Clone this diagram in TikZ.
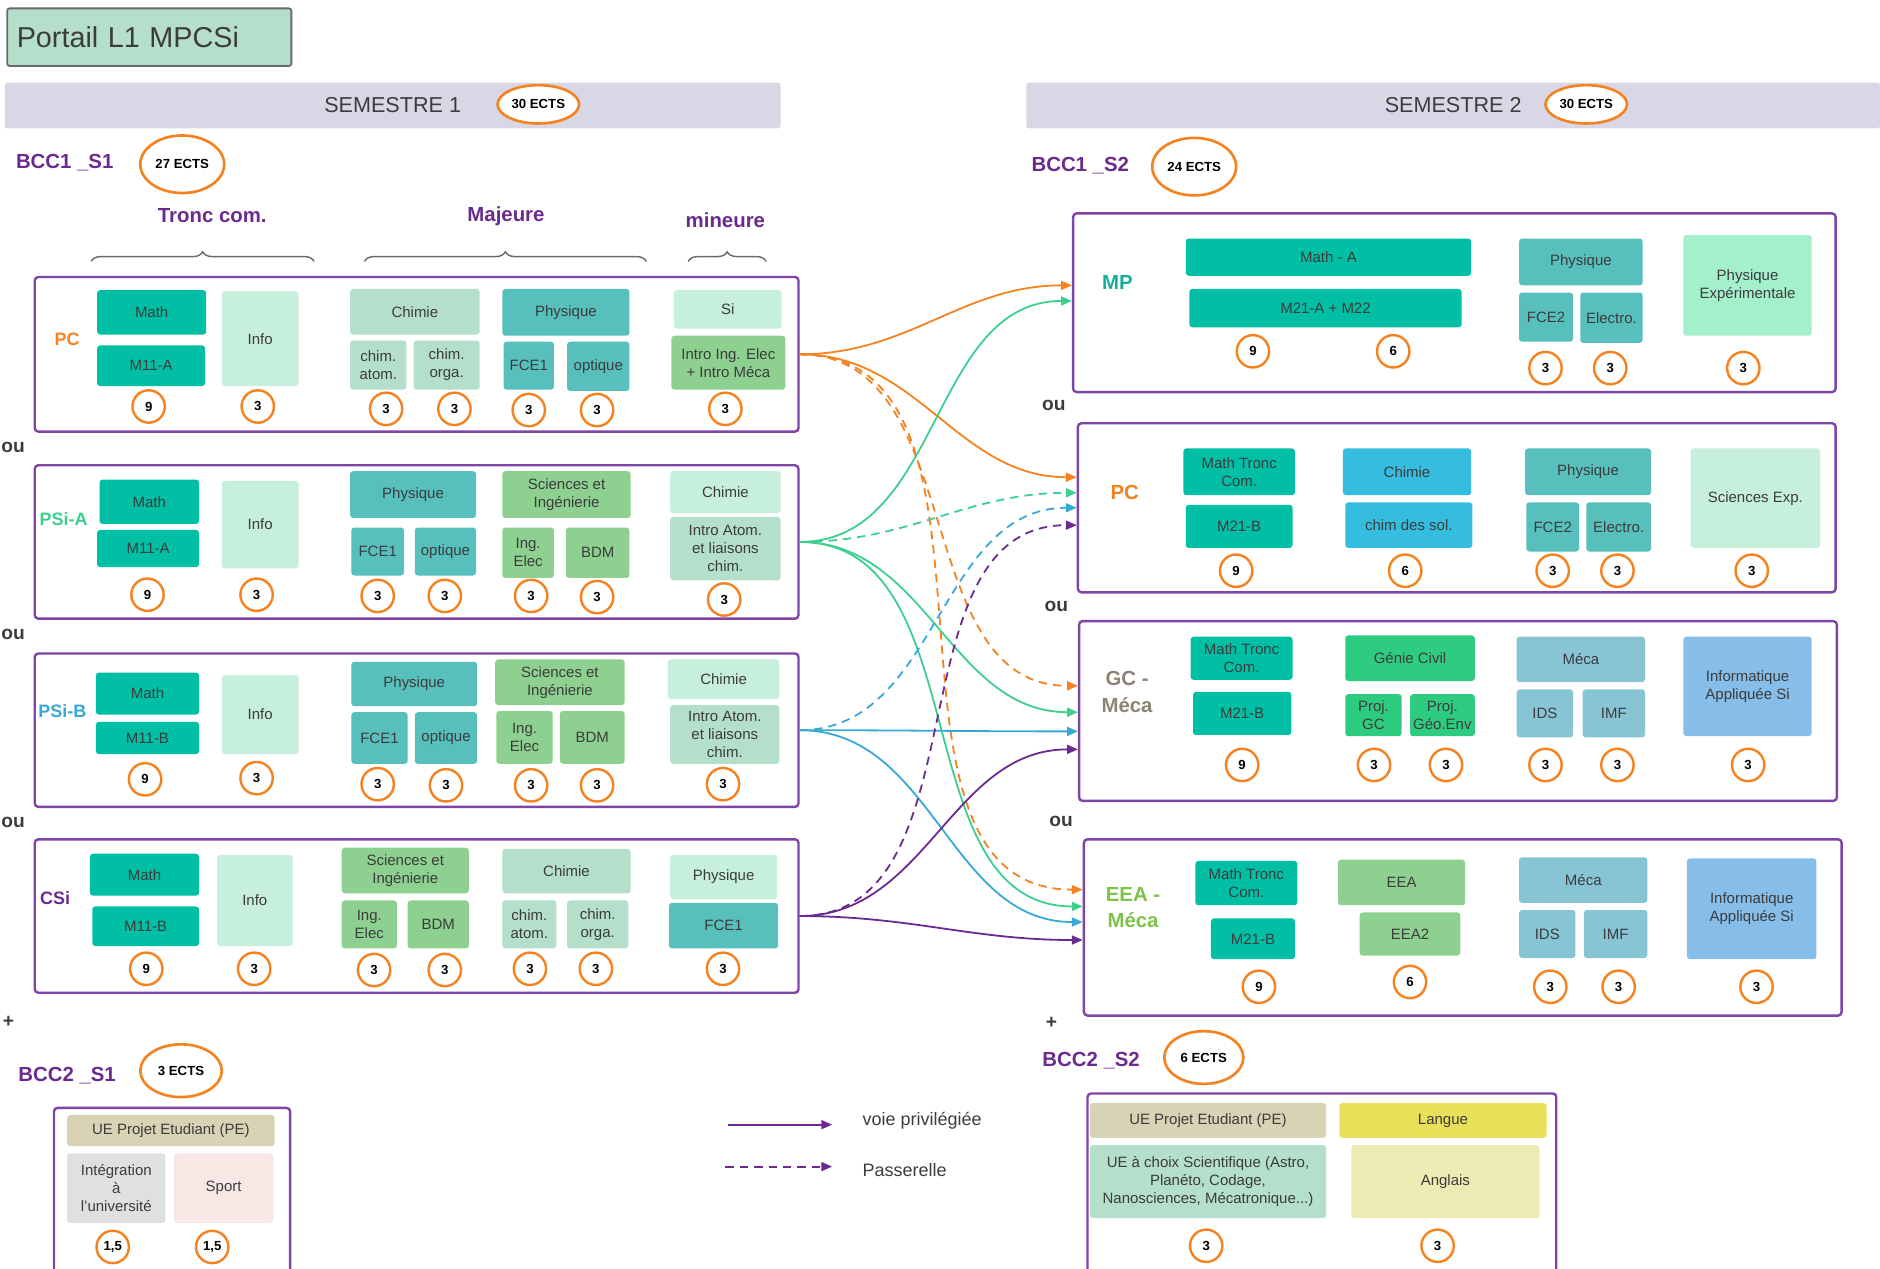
\documentclass[tikz,border=0pt]{standalone}
\usepackage{fontspec}
\setmainfont{Liberation Sans}
\usetikzlibrary{arrows.meta,shapes.geometric,decorations.pathreplacing}
\definecolor{cTxt}{HTML}{3C3C3C}
\definecolor{cOr}{HTML}{F5821F}
\definecolor{cVerL}{HTML}{3CCF8E}
\definecolor{cBleuL}{HTML}{38A8D6}
\definecolor{cViolet}{HTML}{6B2A90}
\definecolor{cTrk}{HTML}{7E44A8}
\definecolor{cTitre}{HTML}{B5DFCA}
\definecolor{cBord}{HTML}{6A6A6A}
\definecolor{cSem}{HTML}{D9D7E6}
\definecolor{cTeal}{HTML}{00BFA5}
\definecolor{cPhy}{HTML}{57C0BC}
\definecolor{cMint}{HTML}{C6EFDC}
\definecolor{cChim}{HTML}{B4DFCA}
\definecolor{cVert}{HTML}{8DD08F}
\definecolor{cBleu}{HTML}{35BDE0}
\definecolor{cGenie}{HTML}{2ECC80}
\definecolor{cMeca}{HTML}{87C5D5}
\definecolor{cInfo}{HTML}{86BDE9}
\definecolor{cExp}{HTML}{A4F0CC}
\definecolor{cBeige}{HTML}{D9D3B5}
\definecolor{cGris}{HTML}{E0E0E0}
\definecolor{cRose}{HTML}{F7E8E6}
\definecolor{cJaune}{HTML}{E9E05A}
\definecolor{cPale}{HTML}{EEEAB3}
\definecolor{cMP}{HTML}{16AD9C}
\definecolor{cGC}{HTML}{8C8474}
\definecolor{cEEA}{HTML}{7DC34A}
\definecolor{cAcc}{HTML}{6A2A8E}
\tikzset{
  ue/.style={rounded corners=2.5, inner sep=1, align=center, text=cTxt, font=\fontsize{12.5}{15}\selectfont},
  pastille/.style={circle, draw=cOr, line width=2, fill=white, minimum size=27, inner sep=0, text=black, font=\bfseries\fontsize{11}{12}\selectfont},
  ects/.style={ellipse, draw=cOr, line width=2.2, fill=white, inner sep=0, text=black, font=\bfseries\fontsize{11}{12}\selectfont},
  parcours/.style={draw=cTrk, line width=2, rounded corners=3, fill=white},
  entete/.style={text=cAcc, font=\bfseries\fontsize{17}{20}\selectfont},
  ou/.style={text=cTxt, font=\bfseries\fontsize{16}{18}\selectfont},
  nomparc/.style={align=center, font=\bfseries\fontsize{17}{22}\selectfont},
  accolade/.style={decorate, decoration={brace, amplitude=8}, draw=cBord, line width=1.2},
  lien/.style={line width=1.5, -{Triangle[length=9,width=7.5]}},
  pas/.style={lien, dash pattern=on 7 off 5},
}
\begin{document}
\begin{tikzpicture}[x=1pt, y=-1pt]
\useasboundingbox (0,0) rectangle (1568,1058);

% titre et semestres
\node[draw=cBord, line width=1.5, fill=cTitre, rounded corners=2, text width=221, inner xsep=8, minimum height=48, align=left, text=cTxt, font=\fontsize{24}{26}\selectfont] (titre) at (124.5,31) {Portail L1 MPCSi};
\node[fill=cSem, rounded corners=2, minimum width=647, minimum height=38, text=cTxt, font=\fontsize{18}{20}\selectfont] (sem1) at (327.5,88) {SEMESTRE 1};
\node[fill=cSem, rounded corners=2, minimum width=712, minimum height=38, text=cTxt, font=\fontsize{18}{20}\selectfont] (sem2) at (1212,88) {SEMESTRE 2};
\node[ects, minimum width=68, minimum height=32] (sem1E) at (449,87) {30 ECTS};
\node[ects, minimum width=68, minimum height=32] (sem2E) at (1323,87) {30 ECTS};

% BCC1
\node[entete] (bcc1S1) at (54,136) {BCC1 \_S1};
\node[ects, minimum width=70, minimum height=48] (bcc1S1E) at (152,137) {27 ECTS};
\node[entete] (bcc1S2) at (901,138) {BCC1 \_S2};
\node[ects, minimum width=70, minimum height=48] (bcc1S2E) at (996,139) {24 ECTS};

\node[entete] (tronc) at (177,180) {Tronc com.};
\node[entete] (majeure) at (422,180) {Majeure};
\node[entete] (mineure) at (605,184) {mineure};
\draw[accolade] (76,218) -- (262,218);
\draw[accolade] (304,218) -- (539,218);
\draw[accolade] (574,218) -- (639,218);

% parcours S1
\node[parcours, minimum width=637, minimum height=129] (pcS1) at (347.5,295.5) {};
\node[parcours, minimum width=637, minimum height=128] (psaS1) at (347.5,452) {};
\node[parcours, minimum width=637, minimum height=128] (psbS1) at (347.5,609) {};
\node[parcours, minimum width=637, minimum height=128] (csiS1) at (347.5,764) {};
\node[ou, anchor=west, inner xsep=0] (ou1) at (1,373) {ou};
\node[ou, anchor=west, inner xsep=0] (ou2) at (1,529) {ou};
\node[ou, anchor=west, inner xsep=0] (ou3) at (1,686) {ou};
\node[ou] (plus1) at (7,852) {+};

\node[nomparc, text=cOr, font=\bfseries\fontsize{15}{18}\selectfont] (pcL) at (56,283) {PC};
\node[nomparc, text=cVerL, font=\bfseries\fontsize{15}{18}\selectfont] (psaL) at (53,433) {PSi-A};
\node[nomparc, text=cBleuL, font=\bfseries\fontsize{15}{18}\selectfont] (psbL) at (52,593) {PSi-B};
\node[nomparc, text=cViolet, font=\bfseries\fontsize{15}{18}\selectfont] (csiL) at (46,749) {CSi};

% PC
\node[ue, fill=cTeal, minimum width=91, minimum height=37] (pcMath) at (126.5,260.5) {Math};
\node[ue, fill=cTeal, minimum width=90, minimum height=34] (pcM11) at (126,305) {M11-A};
\node[ue, fill=cMint, minimum width=64, minimum height=79] (pcInfo) at (217,282.5) {Info};
\node[ue, fill=cChim, minimum width=108, minimum height=38] (pcChim) at (346,260) {Chimie};
\node[ue, fill=cChim, minimum width=47, minimum height=41] (pcChA) at (315.5,304.5) {chim.\\atom.};
\node[ue, fill=cChim, minimum width=55, minimum height=41] (pcChO) at (372.5,304.5) {chim.\\orga.};
\node[ue, fill=cPhy, minimum width=106, minimum height=39] (pcPhy) at (472,260.5) {Physique};
\node[ue, fill=cPhy, minimum width=42, minimum height=40] (pcFCE) at (441,305) {FCE1};
\node[ue, fill=cPhy, minimum width=52, minimum height=41] (pcOpt) at (499,305.5) {optique};
\node[ue, fill=cMint, minimum width=90, minimum height=32] (pcSi) at (607,258) {Si};
\node[ue, fill=cVert, minimum width=95, minimum height=45] (pcIntro) at (607.5,302.5) {Intro Ing. Elec\\+ Intro Méca};
\node[pastille] (pcE1) at (124,339) {9};
\node[pastille] (pcE2) at (215,339) {3};
\node[pastille] (pcE3) at (322,341) {3};
\node[pastille] (pcE4) at (379,341) {3};
\node[pastille] (pcE5) at (441,342) {3};
\node[pastille] (pcE6) at (498,342) {3};
\node[pastille] (pcE7) at (605,341) {3};

% PSi-A
\node[ue, fill=cTeal, minimum width=83, minimum height=37] (paMath) at (124.5,418.5) {Math};
\node[ue, fill=cTeal, minimum width=85, minimum height=31] (paM11) at (123.5,457.5) {M11-A};
\node[ue, fill=cMint, minimum width=64, minimum height=73] (paInfo) at (217,437.5) {Info};
\node[ue, fill=cPhy, minimum width=105, minimum height=39] (paPhy) at (344.5,412.5) {Physique};
\node[ue, fill=cPhy, minimum width=44, minimum height=40] (paFCE) at (315,460) {FCE1};
\node[ue, fill=cPhy, minimum width=51, minimum height=40] (paOpt) at (371.5,460) {optique};
\node[ue, fill=cVert, minimum width=107, minimum height=39] (paSci) at (472.5,412.5) {Sciences et\\Ingénierie};
\node[ue, fill=cVert, minimum width=43, minimum height=42] (paIng) at (440.5,461) {Ing.\\Elec};
\node[ue, fill=cVert, minimum width=53, minimum height=42] (paBDM) at (498.5,461) {BDM};
\node[ue, fill=cMint, minimum width=92, minimum height=35] (paChim) at (605,410.5) {Chimie};
\node[ue, fill=cChim, minimum width=92, minimum height=53] (paAtom) at (605,457.5) {Intro Atom.\\et liaisons\\chim.};
\node[pastille] (paE1) at (123,496) {9};
\node[pastille] (paE2) at (214,496) {3};
\node[pastille] (paE3) at (315,497) {3};
\node[pastille] (paE4) at (371,497) {3};
\node[pastille] (paE5) at (443,497) {3};
\node[pastille] (paE6) at (498,498) {3};
\node[pastille] (paE7) at (604,500) {3};

% PSi-B
\node[ue, fill=cTeal, minimum width=86, minimum height=35] (pbMath) at (123,578.5) {Math};
\node[ue, fill=cTeal, minimum width=86, minimum height=27] (pbM11) at (123,615.5) {M11-B};
\node[ue, fill=cMint, minimum width=64, minimum height=66] (pbInfo) at (217,596) {Info};
\node[ue, fill=cPhy, minimum width=105, minimum height=37] (pbPhy) at (345.5,570.5) {Physique};
\node[ue, fill=cPhy, minimum width=47, minimum height=43] (pbFCE) at (316.5,615.5) {FCE1};
\node[ue, fill=cPhy, minimum width=52, minimum height=43] (pbOpt) at (372,615.5) {optique};
\node[ue, fill=cVert, minimum width=108, minimum height=38] (pbSci) at (467,569) {Sciences et\\Ingénierie};
\node[ue, fill=cVert, minimum width=47, minimum height=44] (pbIng) at (437.5,615) {Ing.\\Elec};
\node[ue, fill=cVert, minimum width=54, minimum height=44] (pbBDM) at (494,615) {BDM};
\node[ue, fill=cMint, minimum width=93, minimum height=33] (pbChim) at (603.5,566.5) {Chimie};
\node[ue, fill=cChim, minimum width=91, minimum height=49] (pbAtom) at (604.5,612.5) {Intro Atom.\\et liaisons\\chim.};
\node[pastille] (pbE1) at (121,650) {9};
\node[pastille] (pbE2) at (214,649) {3};
\node[pastille] (pbE3) at (315,654) {3};
\node[pastille] (pbE4) at (372,655) {3};
\node[pastille] (pbE5) at (443,655) {3};
\node[pastille] (pbE6) at (498,655) {3};
\node[pastille] (pbE7) at (603,654) {3};

% CSi
\node[ue, fill=cTeal, minimum width=91, minimum height=35] (csMath) at (120.5,729.5) {Math};
\node[ue, fill=cTeal, minimum width=89, minimum height=33] (csM11) at (121.5,772.5) {M11-B};
\node[ue, fill=cMint, minimum width=63, minimum height=76] (csInfo) at (212.5,751) {Info};
\node[ue, fill=cVert, minimum width=106, minimum height=38] (csSci) at (338,726) {Sciences et\\Ingénierie};
\node[ue, fill=cVert, minimum width=46, minimum height=40] (csIng) at (308,771) {Ing.\\Elec};
\node[ue, fill=cVert, minimum width=51, minimum height=40] (csBDM) at (365.5,771) {BDM};
\node[ue, fill=cChim, minimum width=107, minimum height=37] (csChim) at (472.5,726.5) {Chimie};
\node[ue, fill=cChim, minimum width=45, minimum height=40] (csChA) at (441.5,771) {chim.\\atom.};
\node[ue, fill=cChim, minimum width=51, minimum height=40] (csChO) at (498.5,771) {chim.\\orga.};
\node[ue, fill=cMint, minimum width=89, minimum height=37] (csPhy) at (603.5,731.5) {Physique};
\node[ue, fill=cPhy, minimum width=91, minimum height=38] (csFCE) at (603.5,772) {FCE1};
\node[pastille] (csE1) at (122,808) {9};
\node[pastille] (csE2) at (212,808) {3};
\node[pastille] (csE3) at (312,809) {3};
\node[pastille] (csE4) at (371,809) {3};
\node[pastille] (csE5) at (442,808) {3};
\node[pastille] (csE6) at (497,808) {3};
\node[pastille] (csE7) at (603,808) {3};

% parcours S2
\node[parcours, minimum width=636, minimum height=149] (mpS2) at (1213,252.5) {};
\node[parcours, minimum width=632, minimum height=141] (pcS2) at (1215,423.5) {};
\node[parcours, minimum width=632, minimum height=150] (gcS2) at (1216,593) {};
\node[parcours, minimum width=632, minimum height=147] (eeaS2) at (1220,773.5) {};
\node[ou] (ou4) at (879,338) {ou};
\node[ou] (ou5) at (881,506) {ou};
\node[ou] (ou6) at (885,685) {ou};
\node[ou] (plus2) at (877,853) {+};

\node[nomparc, text=cMP] (mpL) at (932,236) {MP};
\node[nomparc, text=cOr] (pc2L) at (938,411) {PC};
\node[nomparc, text=cGC] (gcL) at (940,577) {GC -\\Méca};
\node[nomparc, text=cEEA] (eeaL) at (945,757) {EEA -\\Méca};

% MP
\node[ue, fill=cTeal, minimum width=238, minimum height=31] (mpMath) at (1108,214.5) {Math - A};
\node[ue, fill=cTeal, minimum width=227, minimum height=32] (mpM21) at (1105.5,257) {M21-A + M22};
\node[ue, fill=cPhy, minimum width=103, minimum height=39] (mpPhy) at (1318.5,218.5) {Physique};
\node[ue, fill=cPhy, minimum width=45, minimum height=41] (mpFCE) at (1289.5,264.5) {FCE2};
\node[ue, fill=cPhy, minimum width=52, minimum height=42] (mpEl) at (1344,265) {Electro.};
\node[ue, fill=cExp, minimum width=107, minimum height=84] (mpExp) at (1457.5,238) {Physique\\Expérimentale};
\node[pastille] (mpE1) at (1045,293) {9};
\node[pastille] (mpE2) at (1162,293) {6};
\node[pastille] (mpE3) at (1289,307) {3};
\node[pastille] (mpE4) at (1343,307) {3};
\node[pastille] (mpE5) at (1454,307) {3};

% PC S2
\node[ue, fill=cTeal, minimum width=93, minimum height=39] (pc2Math) at (1033.5,393.5) {Math Tronc\\Com.};
\node[ue, fill=cTeal, minimum width=89, minimum height=36] (pc2M21) at (1033.5,439) {M21-B};
\node[ue, fill=cBleu, minimum width=107, minimum height=39] (pc2Chim) at (1173.5,393.5) {Chimie};
\node[ue, fill=cBleu, minimum width=106, minimum height=38] (pc2Sol) at (1175,438) {chim des sol.};
\node[ue, fill=cPhy, minimum width=105, minimum height=39] (pc2Phy) at (1324.5,393.5) {Physique};
\node[ue, fill=cPhy, minimum width=44, minimum height=41] (pc2FCE) at (1295,439.5) {FCE2};
\node[ue, fill=cPhy, minimum width=54, minimum height=41] (pc2El) at (1350,439.5) {Electro.};
\node[ue, fill=cMint, minimum width=108, minimum height=83] (pc2Exp) at (1464,415.5) {Sciences Exp.};
\node[pastille] (pc2E1) at (1031,476) {9};
\node[pastille] (pc2E2) at (1172,476) {6};
\node[pastille] (pc2E3) at (1295,476) {3};
\node[pastille] (pc2E4) at (1349,476) {3};
\node[pastille] (pc2E5) at (1461,476) {3};

% GC - Meca
\node[ue, fill=cTeal, minimum width=85, minimum height=36] (gcMath) at (1035.5,549) {Math Tronc\\Com.};
\node[ue, fill=cTeal, minimum width=82, minimum height=36] (gcM21) at (1036,595) {M21-B};
\node[ue, fill=cGenie, minimum width=108, minimum height=38] (gcGen) at (1176,549) {Génie Civil};
\node[ue, fill=cGenie, minimum width=47, minimum height=35] (gcPGC) at (1145.5,596.5) {Proj.\\GC};
\node[ue, fill=cGenie, minimum width=54, minimum height=35, inner sep=0] (gcPGeo) at (1203,596.5) {Proj.\\Géo.Env};
\node[ue, fill=cMeca, minimum width=107, minimum height=38] (gcMeca) at (1318.5,550) {Méca};
\node[ue, fill=cMeca, minimum width=47, minimum height=40] (gcIDS) at (1288.5,595) {IDS};
\node[ue, fill=cMeca, minimum width=52, minimum height=40] (gcIMF) at (1346,595) {IMF};
\node[ue, fill=cInfo, minimum width=107, minimum height=83] (gcInfo) at (1457.5,572.5) {Informatique\\Appliquée Si};
\node[pastille] (gcE1) at (1036,638) {9};
\node[pastille] (gcE2) at (1146,638) {3};
\node[pastille] (gcE3) at (1206,638) {3};
\node[pastille] (gcE4) at (1289,638) {3};
\node[pastille] (gcE5) at (1349,638) {3};
\node[pastille] (gcE6) at (1458,638) {3};

% EEA - Meca
\node[ue, fill=cTeal, minimum width=85, minimum height=37] (eeMath) at (1039.5,736.5) {Math Tronc\\Com.};
\node[ue, fill=cTeal, minimum width=70, minimum height=34] (eeM21) at (1045,783) {M21-B};
\node[ue, fill=cVert, minimum width=106, minimum height=38] (eeEEA) at (1169,736) {EEA};
\node[ue, fill=cVert, minimum width=84, minimum height=36] (eeEEA2) at (1176,779) {EEA2};
\node[ue, fill=cMeca, minimum width=107, minimum height=38] (eeMeca) at (1320.5,734) {Méca};
\node[ue, fill=cMeca, minimum width=47, minimum height=40] (eeIDS) at (1290.5,779) {IDS};
\node[ue, fill=cMeca, minimum width=53, minimum height=40] (eeIMF) at (1347.5,779) {IMF};
\node[ue, fill=cInfo, minimum width=108, minimum height=84] (eeInfo) at (1461,758) {Informatique\\Appliquée Si};
\node[pastille] (eeE1) at (1050,823) {9};
\node[pastille] (eeE2) at (1176,819) {6};
\node[pastille] (eeE3) at (1293,823) {3};
\node[pastille] (eeE4) at (1350,823) {3};
\node[pastille] (eeE5) at (1465,823) {3};

% passages S1 -> S2
\draw[lien, cOr] (pcS1.east) to[out=0,in=180] ([yshift=14.5pt]mpS2.west);
\draw[lien, cOr] (pcS1.east) to[out=0,in=180] ([yshift=25.5pt]pcS2.west);
\draw[pas, cOr] (pcS1.east) to[out=0,in=180] ([yshift=21pt]gcS2.west);
\draw[pas, cOr] (pcS1.east) to[out=0,in=180] ([yshift=31.5pt]eeaS2.west);
\draw[lien, cVerL] (psaS1.east) to[out=0,in=180] ([yshift=1.5pt]mpS2.west);
\draw[pas, cVerL] (psaS1.east) to[out=0,in=180] ([yshift=12.5pt]pcS2.west);
\draw[lien, cVerL] (psaS1.east) to[out=0,in=180] ([yshift=-1pt]gcS2.west);
\draw[lien, cVerL] (psaS1.east) to[out=0,in=180] ([yshift=17.5pt]eeaS2.west);
\draw[pas, cBleuL] (psbS1.east) to[out=0,in=180] (pcS2.west);
\draw[lien, cBleuL] (psbS1.east) to[out=0,in=180] ([yshift=-17pt]gcS2.west);
\draw[lien, cBleuL] (psbS1.east) to[out=0,in=180] ([yshift=4.5pt]eeaS2.west);
\draw[pas, cViolet] (csiS1.east) to[out=0,in=180] ([yshift=-14.5pt]pcS2.west);
\draw[lien, cViolet] (csiS1.east) to[out=0,in=180] ([yshift=-32pt]gcS2.west);
\draw[lien, cViolet] (csiS1.east) to[out=0,in=180] ([yshift=-10.5pt]eeaS2.west);

% BCC2 S1
\node[entete] (bcc2S1) at (56,897) {BCC2 \_S1};
\node[ects, minimum width=68, minimum height=44] (bcc2S1E) at (151,893) {3 ECTS};
\draw[cTrk, line width=2, rounded corners=3] (45,1062) -- (45,924) -- (242,924) -- (242,1062);
\node[ue, fill=cBeige, minimum width=173, minimum height=26] (b1PE) at (142.5,943) {UE Projet Etudiant (PE)};
\node[ue, fill=cGris, minimum width=82, minimum height=58] (b1Int) at (97,991) {Intégration\\à\\l'université};
\node[ue, fill=cRose, minimum width=83, minimum height=58] (b1Sport) at (186.5,991) {Sport};
\node[pastille] (b1E1) at (94,1040) {1,5};
\node[pastille] (b1E2) at (177,1040) {1,5};

% BCC2 S2
\node[entete] (bcc2S2) at (910,885) {BCC2 \_S2};
\node[ects, minimum width=66, minimum height=44] (bcc2S2E) at (1004,882) {6 ECTS};
\draw[cTrk, line width=2, rounded corners=3] (907,1062) -- (907,912) -- (1298,912) -- (1298,1062);
\node[ue, fill=cBeige, minimum width=197, minimum height=29] (b2PE) at (1007.5,934.5) {UE Projet Etudiant (PE)};
\node[ue, fill=cJaune, minimum width=173, minimum height=29] (b2Lang) at (1203.5,934.5) {Langue};
\node[ue, fill=cChim, minimum width=197, minimum height=61] (b2UE) at (1007.5,985.5) {UE à choix Scientifique (Astro,\\Planéto, Codage,\\Nanosciences, Mécatronique...)};
\node[ue, fill=cPale, minimum width=157, minimum height=61] (b2Ang) at (1205.5,985.5) {Anglais};
\node[pastille] (b2E1) at (1006,1039) {3};
\node[pastille] (b2E2) at (1199,1039) {3};

% legende
\coordinate (legA) at (607,938);
\coordinate (legB) at (694,938);
\coordinate (legC) at (605,973);
\coordinate (legD) at (694,973);
\draw[lien, cViolet] (legA) -- (legB);
\draw[pas, cViolet] (legC) -- (legD);
\node[anchor=west, text=cTxt, font=\fontsize{15}{17}\selectfont] (legT1) at (716,935) {voie privilégiée};
\node[anchor=west, text=cTxt, font=\fontsize{15}{17}\selectfont] (legT2) at (716,976) {Passerelle};
\end{tikzpicture}
\end{document}
